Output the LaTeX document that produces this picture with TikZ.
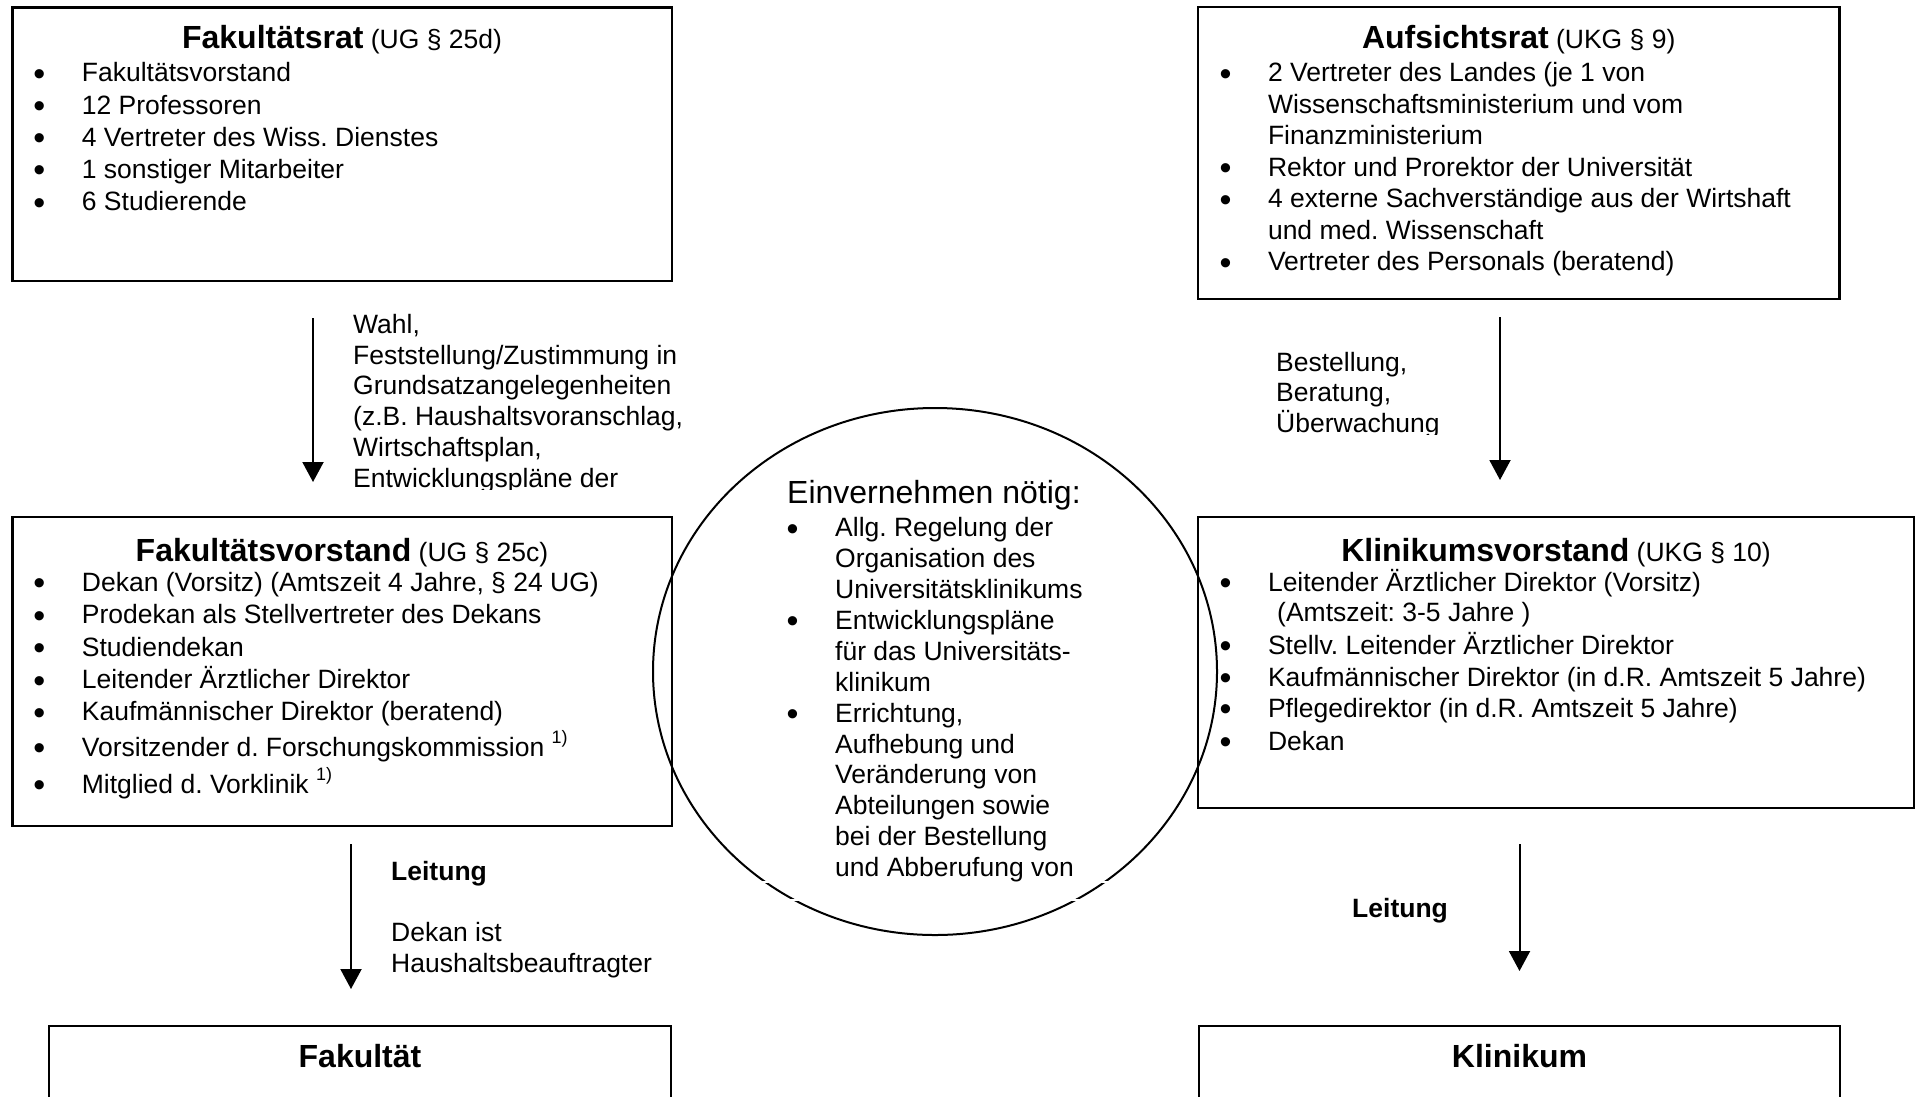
\documentclass[tikz,border=0pt]{standalone}
\usepackage{fontspec}
\setmainfont{Liberation Sans}
\usetikzlibrary{arrows.meta,shapes.geometric}
\newcommand{\bu}{\llap{\raisebox{-3.3pt}{\fontsize{34pt}{34pt}\selectfont\textbullet}\hspace{36.6pt}}}
\newcommand{\sz}{\fontsize{26.5pt}{31pt}\selectfont\frenchspacing}
\newcommand{\szb}{\fontsize{32pt}{38pt}\selectfont\frenchspacing}
\newcommand{\supx}[1]{\raisebox{13pt}{\fontsize{18pt}{18pt}\selectfont #1}}
\begin{document}
\frenchspacing
\begin{tikzpicture}[x=1pt,y=-1pt,
  box/.style={draw, line width=2.2pt, rectangle, inner sep=0pt},
  txt/.style={anchor=base west, inner sep=0pt, font=\sz},
  ttl/.style={anchor=base, inner sep=0pt, font=\sz},
  arr/.style={line width=2pt, -{Triangle[width=21pt,length=20pt]}}]
\useasboundingbox[fill=white] (0,0) rectangle (1916,1096);

% ---------- boxes ----------
\node[box, minimum width=659.5pt, minimum height=273.5pt] (frB) at (342.25,144.25) {};
\node[box, minimum width=641.5pt, minimum height=292pt] (arB) at (1518.75,153) {};
\node[box, minimum width=659.5pt, minimum height=309.3pt] (fvB) at (342.25,671.35) {};
\node[box, minimum width=716pt, minimum height=291.3pt] (kvB) at (1556,662.35) {};
\begin{scope}
\clip (0,0) rectangle (1916,1096);
\node[box, minimum width=622pt, minimum height=134pt] (fkB) at (360,1093) {};
\node[box, minimum width=641pt, minimum height=134pt] (klB) at (1519.5,1093) {};
\end{scope}

% ---------- ellipse ----------
\node[draw, ellipse, line width=2pt, inner sep=0pt, minimum width=564pt, minimum height=527pt] (ev) at (935,671.5) {};
\draw[white, line width=1.6pt] (755,882) -- (776,882) (1094,882) -- (1115,882)
  (784,900) -- (806,900) (1064,900) -- (1086,900);

% ---------- Fakultaetsrat ----------
\node[ttl] (frT) at (342,48) {{\szb\bfseries Fakultätsrat} (UG § 25d)};
\node[txt] (fr1) at (81.7,81.7) {\bu Fakultätsvorstand};
\node[txt] (fr2) at (81.7,114) {\bu 12 Professoren};
\node[txt] (fr3) at (81.7,146.3) {\bu 4 Vertreter des Wiss. Dienstes};
\node[txt] (fr4) at (81.7,178.6) {\bu 1 sonstiger Mitarbeiter};
\node[txt] (fr5) at (81.7,210.9) {\bu 6 Studierende};

% ---------- Aufsichtsrat ----------
\node[ttl] (arT) at (1518.7,48) {{\szb\bfseries Aufsichtsrat} (UKG § 9)};
\node[txt] (ar1) at (1267.8,81.7) {\bu 2 Vertreter des Landes (je 1 von};
\node[txt] (ar2) at (1267.8,113.2) {Wissenschaftsministerium und vom};
\node[txt] (ar3) at (1267.8,144.7) {Finanzministerium};
\node[txt] (ar4) at (1267.8,176.2) {\bu Rektor und Prorektor der Universität};
\node[txt] (ar5) at (1267.8,207.7) {\bu 4 externe Sachverständige aus der Wirtshaft};
\node[txt] (ar6) at (1267.8,239.2) {und med. Wissenschaft};
\node[txt] (ar7) at (1267.8,270.7) {\bu Vertreter des Personals (beratend)};

% ---------- Fakultaetsvorstand ----------
\node[ttl] (fvT) at (342,561) {{\szb\bfseries Fakultätsvorstand} (UG § 25c)};
\node[txt] (fv1) at (81.7,591) {\bu Dekan (Vorsitz) (Amtszeit 4 Jahre, § 24 UG)};
\node[txt] (fv2) at (81.7,623.8) {\bu Prodekan als Stellvertreter des Dekans};
\node[txt] (fv3) at (81.7,656) {\bu Studiendekan};
\node[txt] (fv4) at (81.7,688.7) {\bu Leitender Ärztlicher Direktor};
\node[txt] (fv5) at (81.7,720.7) {\bu Kaufmännischer Direktor (beratend)};
\node[txt] (fv6) at (81.7,756) {\bu Vorsitzender d. Forschungskommission \supx{1)}};
\node[txt] (fv7) at (81.7,793.5) {\bu Mitglied d. Vorklinik \supx{1)}};

% ---------- Klinikumsvorstand ----------
\node[ttl] (kvT) at (1556,561) {{\szb\bfseries Klinikumsvorstand} (UKG § 10)};
\node[txt] (kv1) at (1267.8,591) {\bu Leitender Ärztlicher Direktor (Vorsitz)};
\node[txt] (kv2) at (1277,621) {(Amtszeit: 3-5 Jahre )};
\node[txt] (kv3) at (1267.8,654) {\bu Stellv. Leitender Ärztlicher Direktor};
\node[txt] (kv4) at (1267.8,686) {\bu Kaufmännischer Direktor (in d.R. Amtszeit 5 Jahre)};
\node[txt] (kv5) at (1267.8,717.5) {\bu Pflegedirektor (in d.R. Amtszeit 5 Jahre)};
\node[txt] (kv6) at (1267.8,750) {\bu Dekan};

% ---------- ellipse text ----------
\node[txt, font=\szb] (evT) at (787,503.5) {Einvernehmen nötig:};
\node[txt] (ev1) at (835,536.7) {\bu Allg. Regelung der};
\node[txt] (ev2) at (835,567.6) {Organisation des};
\node[txt] (ev3) at (835,598.5) {Universitätsklinikums};
\node[txt] (ev4) at (835,629.4) {\bu Entwicklungspläne};
\node[txt] (ev5) at (835,660.3) {für das Universitäts-};
\node[txt] (ev6) at (835,691.2) {klinikum};
\node[txt] (ev7) at (835,722.1) {\bu Errichtung,};
\node[txt] (ev8) at (835,753) {Aufhebung und};
\node[txt] (ev9) at (835,783.9) {Veränderung von};
\node[txt] (ev10) at (835,814.8) {Abteilungen sowie};
\node[txt] (ev11) at (835,845.7) {bei der Bestellung};
\node[txt] (ev12) at (835,876.6) {und Abberufung von};

% ---------- bottom boxes text ----------
\node[ttl, font=\szb\bfseries] (fkT) at (360,1067.5) {Fakultät};
\node[ttl, font=\szb\bfseries] (klT) at (1519.5,1067.5) {Klinikum};

% ---------- arrows ----------
\coordinate (a1s) at (313,318);  \coordinate (a1e) at (313,482);
\coordinate (a2s) at (1500,317); \coordinate (a2e) at (1500,480);
\coordinate (a3s) at (351,844);  \coordinate (a3e) at (351,989);
\coordinate (a4s) at (1519.5,844); \coordinate (a4e) at (1519.5,971);
\draw[arr] (a1s) -- (a1e);
\draw[arr] (a2s) -- (a2e);
\draw[arr] (a3s) -- (a3e);
\draw[arr] (a4s) -- (a4e);

% ---------- arrow labels ----------
\begin{scope}
\clip (340,300) rectangle (720,489.5);
\node[txt] (l1a) at (353,333.3) {Wahl,};
\node[txt] (l1b) at (353,364.1) {Feststellung/Zustimmung in};
\node[txt] (l1c) at (353,394.9) {Grundsatzangelegenheiten};
\node[txt] (l1d) at (353,425.7) {(z.B. Haushaltsvoranschlag,};
\node[txt] (l1e) at (353,456.5) {Wirtschaftsplan,};
\node[txt] (l1f) at (353,487.3) {Entwicklungspläne der};
\end{scope}
\begin{scope}
\clip (1260,340) rectangle (1480,434.5);
\node[txt] (l2a) at (1276,371.2) {Bestellung,};
\node[txt] (l2b) at (1276,401.8) {Beratung,};
\node[txt] (l2c) at (1276,432.4) {Überwachung};
\end{scope}
\node[txt, font=\sz\bfseries] (l3a) at (391,880.5) {Leitung};
\node[txt] (l3b) at (391,941.5) {Dekan ist};
\node[txt] (l3c) at (391,972) {Haushaltsbeauftragter};
\node[txt, font=\sz\bfseries] (l4a) at (1352,917.5) {Leitung};
\end{tikzpicture}
\end{document}
